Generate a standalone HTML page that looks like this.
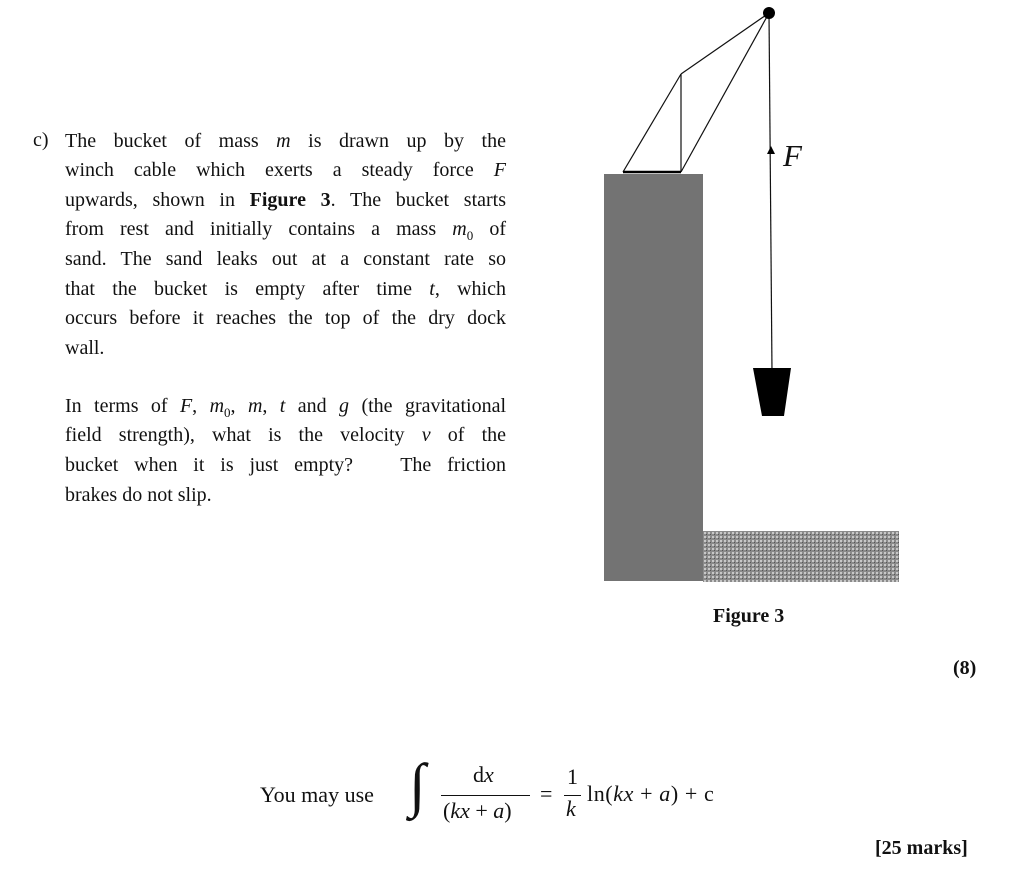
<!DOCTYPE html>
<html><head><meta charset="utf-8"><style>
body{margin:0;width:1024px;height:876px;background:#fff;position:relative;font-family:"Liberation Serif",serif;color:#111;overflow:hidden}
.l{position:absolute;left:65px;width:441px;font-size:20px;line-height:24px;text-align:justify;text-align-last:justify;white-space:nowrap}
.n{text-align-last:left}
i{font-style:italic}
.t{position:absolute;font-size:20px;white-space:nowrap}
</style></head><body>
<div class="t" style="left:33px;top:129px">c)</div>
<div class="l" style="top:129px">The bucket of mass <i>m</i> is drawn up by the</div>
<div class="l" style="top:158px">winch cable which exerts a steady force <i>F</i></div>
<div class="l" style="top:188px">upwards, shown in <b>Figure 3</b>. The bucket starts</div>
<div class="l" style="top:217px">from rest and initially contains a mass <i>m</i><sub style="font-size:13px">0</sub> of</div>
<div class="l" style="top:247px">sand. The sand leaks out at a constant rate so</div>
<div class="l" style="top:277px">that the bucket is empty after time <i>t</i>, which</div>
<div class="l" style="top:306px">occurs before it reaches the top of the dry dock</div>
<div class="l n" style="top:336px">wall.</div>
<div class="l" style="top:394px">In terms of <i>F</i>, <i>m</i><sub style="font-size:13px">0</sub>, <i>m</i>, <i>t</i> and <i>g</i> (the gravitational</div>
<div class="l" style="top:423px">field strength), what is the velocity <i>v</i> of the</div>
<div class="l" style="top:453px">bucket when it is just empty?&nbsp;&nbsp; The friction</div>
<div class="l n" style="top:483px">brakes do not slip.</div>

<svg style="position:absolute;left:0;top:0" width="1024" height="876">
<defs><pattern id="p" width="4" height="4" patternUnits="userSpaceOnUse"><rect width="4" height="4" fill="#8a8a8a"/><rect width="2" height="2" fill="#c8c8c8"/><rect x="2" y="2" width="1" height="1" fill="#555"/></pattern></defs>
<rect x="604" y="174" width="99" height="407" fill="#737373"/>
<rect x="703" y="531" width="196" height="51" fill="url(#p)"/>
<g stroke="#111" stroke-width="1.2" fill="none">
<line x1="769" y1="13" x2="681" y2="74"/>
<line x1="769" y1="13" x2="681" y2="172"/>
<line x1="681" y1="74" x2="681" y2="172"/>
<line x1="681" y1="74" x2="623" y2="172"/>
<line x1="769" y1="13" x2="772" y2="372"/>
</g>
<line x1="623" y1="172" x2="681" y2="172" stroke="#000" stroke-width="2.5"/>
<circle cx="769" cy="13" r="6" fill="#000"/>
<polygon points="771,146 767,154 775,154" fill="#000"/>
<polygon points="753,368 791,368 784,416 762,416" fill="#000"/>
</svg>
<div class="t" style="left:783px;top:138px;font-size:31px;font-style:italic">F</div>
<div class="t" style="left:713px;top:605px;font-weight:bold">Figure 3</div>
<div class="t" style="left:953px;top:657px;font-weight:bold">(8)</div>

<div class="t" style="left:260px;top:782px;font-size:22px">You may use</div>
<div class="t" style="left:409px;top:750px;font-size:60px;font-style:italic;line-height:70px">∫</div>
<div class="t" style="left:473px;top:762px;font-size:22px">d<i>x</i></div>
<div style="position:absolute;left:441px;top:795px;width:89px;height:1px;background:#111"></div>
<div class="t" style="left:443px;top:798px;font-size:22px">(<i>kx</i> + <i>a</i>)</div>
<div class="t" style="left:540px;top:781px;font-size:22px">=</div>
<div class="t" style="left:567px;top:764px;font-size:22px">1</div>
<div style="position:absolute;left:564px;top:795px;width:17px;height:1px;background:#111"></div>
<div class="t" style="left:566px;top:796px;font-size:22px"><i>k</i></div>
<div class="t" style="left:587px;top:781px;font-size:22px;letter-spacing:0.6px">ln(<i>kx</i> + <i>a</i>) + c</div>

<div class="t" style="left:875px;top:837px;font-weight:bold">[25 marks]</div>
</body></html>
